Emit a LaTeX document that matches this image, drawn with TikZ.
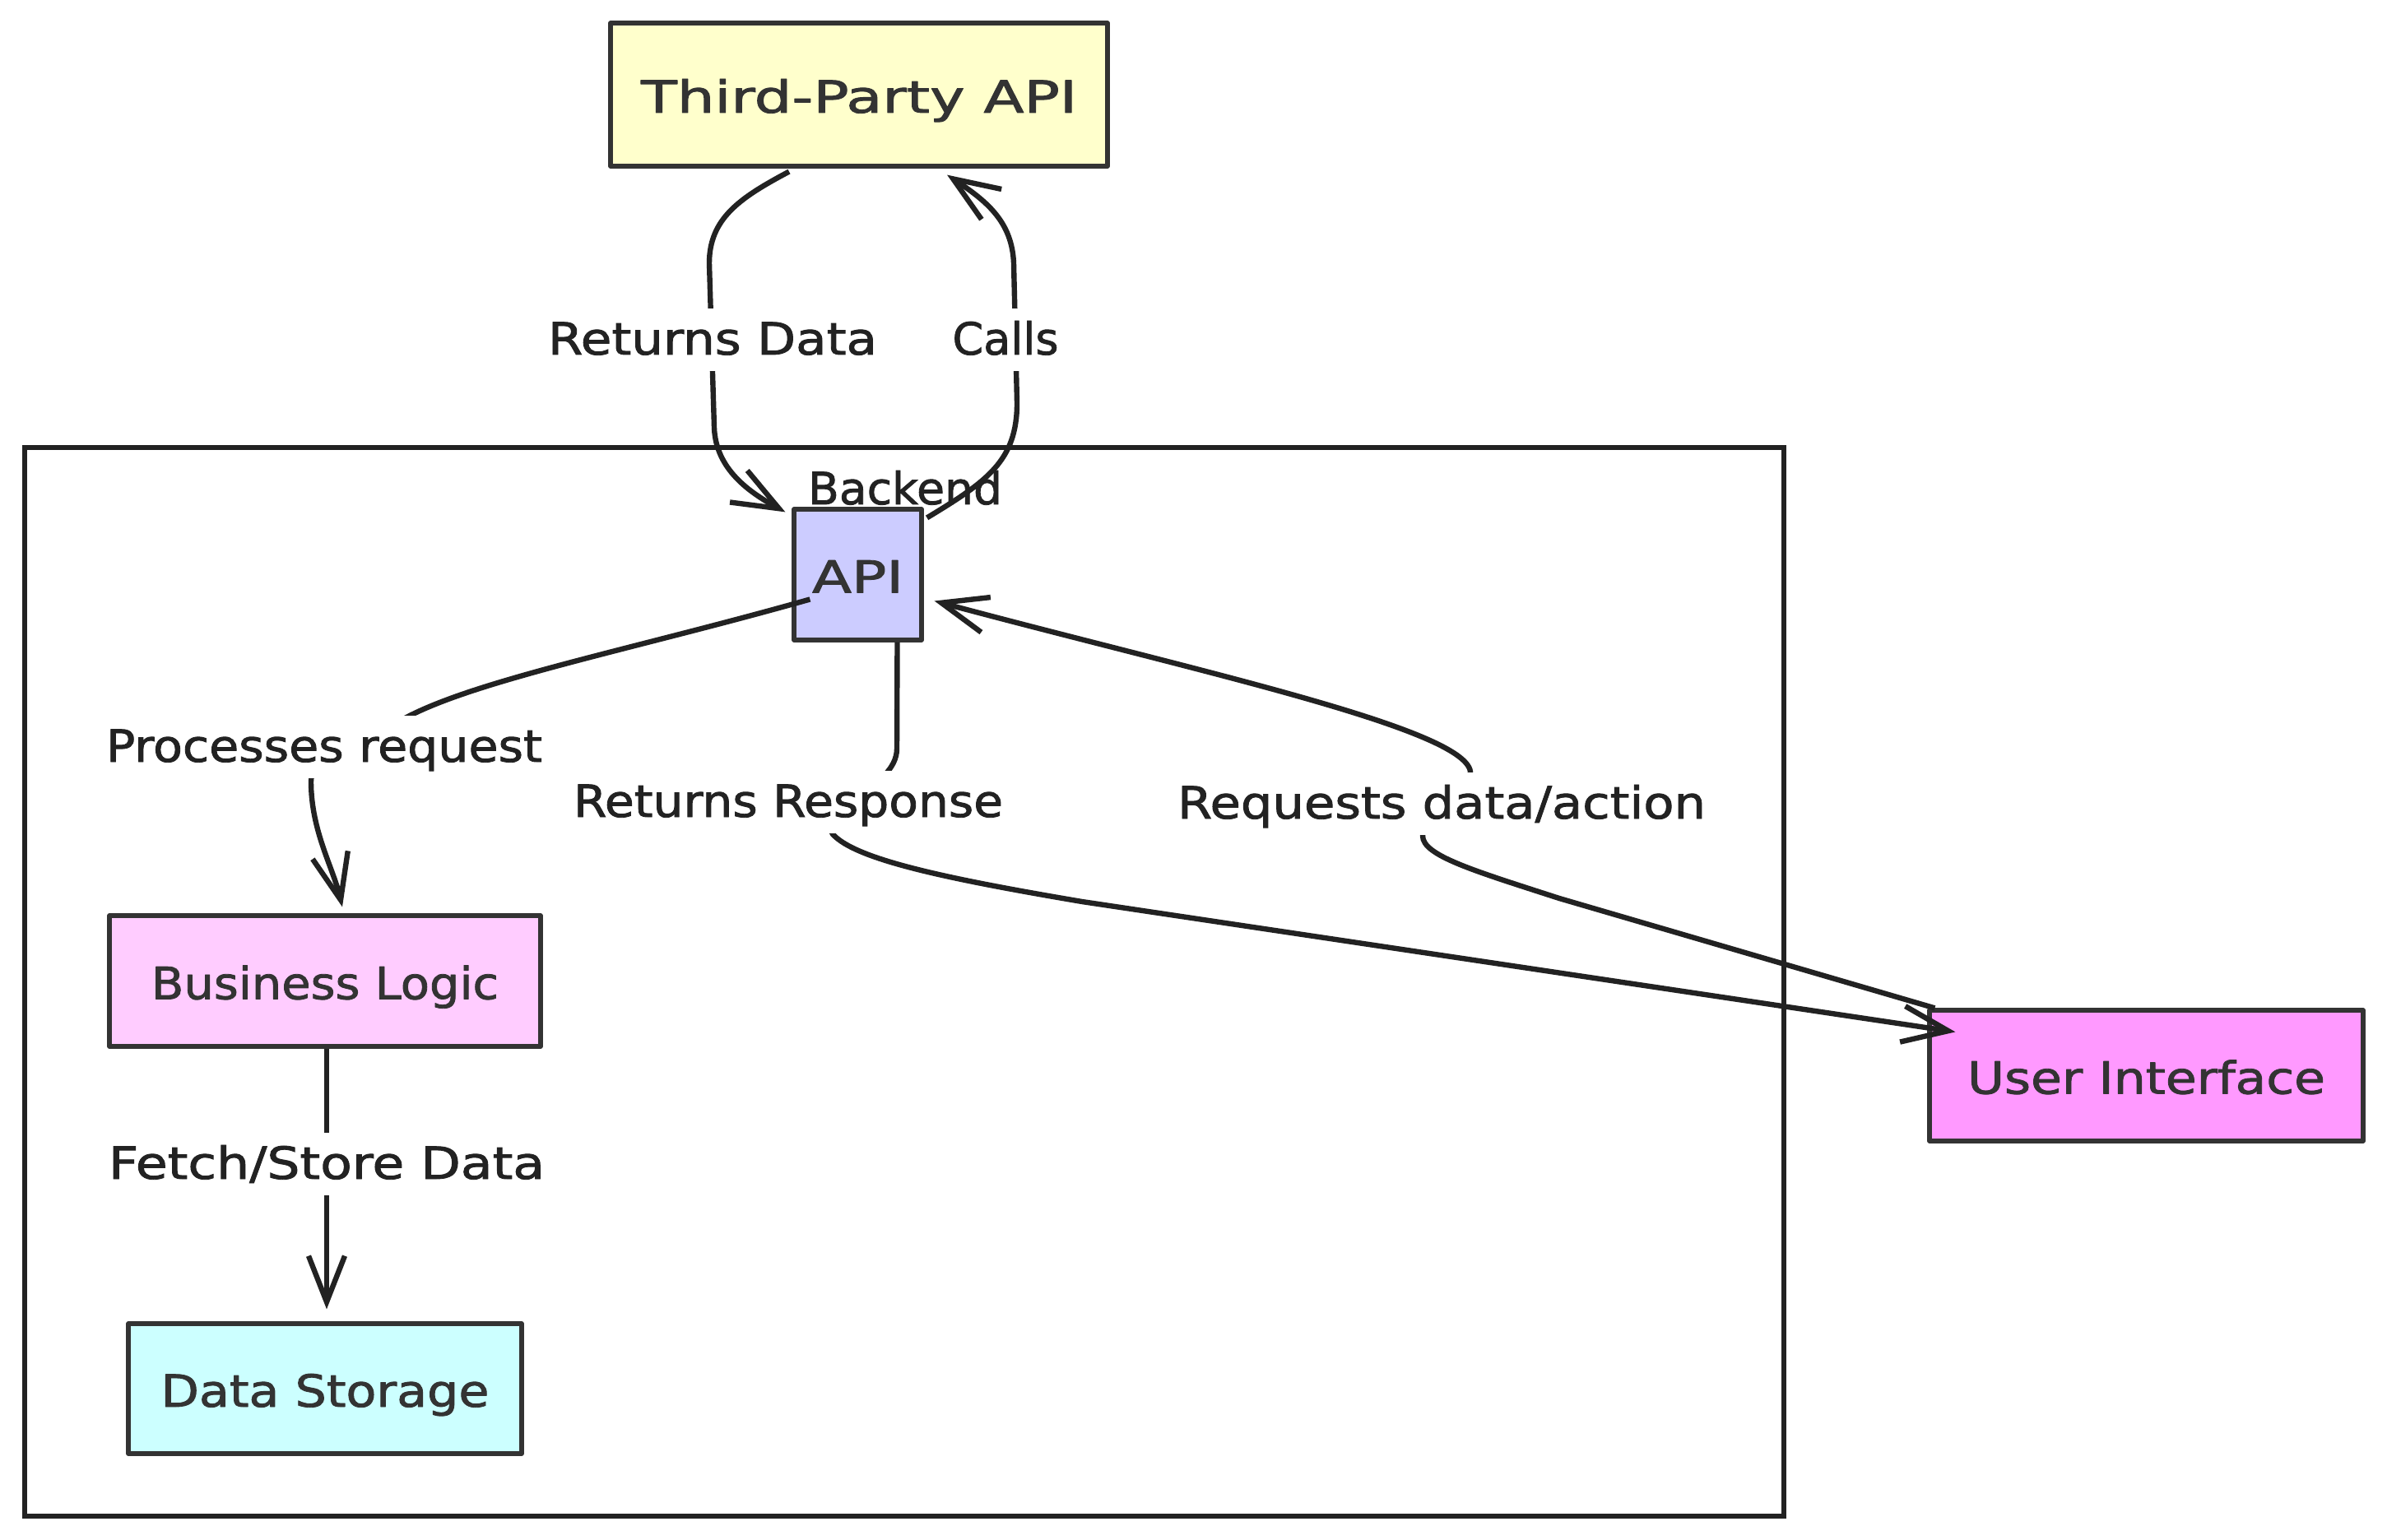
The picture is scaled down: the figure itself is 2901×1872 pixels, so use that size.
\documentclass[tikz,border=0pt]{standalone}
\usepackage{graphicx}
\usepackage{fontspec}
\setmainfont[FakeBold=1.5]{DejaVu Sans}
\usetikzlibrary{arrows.meta,calc}
\pgfdeclarelayer{back}
\pgfdeclarelayer{edges}
\pgfdeclarelayer{labels}
\pgfsetlayers{back,main,edges,labels}
\definecolor{ink}{HTML}{333333}
\definecolor{txt}{HTML}{222222}
\definecolor{tpc}{HTML}{FFFFCC}
\definecolor{apic}{HTML}{CCCCFF}
\definecolor{blc}{HTML}{FFCCFF}
\definecolor{dsc}{HTML}{CCFFFF}
\definecolor{uic}{HTML}{FF99FF}
\newcommand{\fitw}[2]{\resizebox{#1}{\height}{#2}}
\begin{document}
\begin{tikzpicture}[x=0.25pt,y=-0.25pt,line cap=round,line join=round,
  font=\fontsize{13.5}{16}\selectfont,
  box/.style={draw=ink,line width=1.3pt,inner sep=0pt,text=ink,text height=11pt,text depth=0pt},
  lbl/.style={fill=white,inner xsep=3pt,inner ysep=2.5pt,text=txt,text height=11.6pt,text depth=2.6pt},
  conn/.style={draw=txt,line width=1.6pt},
  arr/.style={conn,-{Straight Barb[length=14pt,width=11pt]}}]
\useasboundingbox (0,0) rectangle (2901,1872);

% nodes
\node[box,fill=tpc,minimum width=151pt,minimum height=43.5pt] (tp) at (1044,115) {\fitw{132.5pt}{Third-Party API}};
\node[box,fill=apic,minimum width=38.75pt,minimum height=39.75pt] (api) at (1042.5,698.5) {\fitw{27.75pt}{API}};
\node[box,fill=blc,minimum width=131pt,minimum height=39.75pt] (bl) at (395,1192.5) {\fitw{105.5pt}{Business Logic}};
\node[box,fill=dsc,minimum width=119.5pt,minimum height=39.5pt] (ds) at (395,1688) {\fitw{99.75pt}{Data Storage}};
\node[box,fill=uic,minimum width=131.75pt,minimum height=39.75pt] (ui) at (2608.5,1307.5) {\fitw{108.75pt}{User Interface}};

\begin{pgfonlayer}{back}
\fill[white] (0,0) rectangle (2901,1872);
\node[draw=txt,line width=1.3pt,minimum width=534.5pt,minimum height=324.75pt,inner sep=0pt] (backend) at (1099,1193.5) {};
\node[anchor=base,text=txt,inner sep=0pt] (bk) at (1100,613) {\fitw{59pt}{Backend}};
\end{pgfonlayer}

% edge labels
\begin{pgfonlayer}{labels}
\node[lbl] (lrd) at (866,413) {\fitw{100pt}{Returns Data}};
\node[lbl] (lca) at (1222,413) {\fitw{32.25pt}{Calls}};
\node[lbl] (lpr) at (394,908) {\fitw{132.5pt}{Processes request}};
\node[lbl] (lrr) at (958,975) {\fitw{130.5pt}{Returns Response}};
\node[lbl] (lrq) at (1752,977) {\fitw{160.5pt}{Requests data/action}};
\node[lbl] (lfs) at (397,1415) {\fitw{132.5pt}{Fetch/Store Data}};
\end{pgfonlayer}

\begin{pgfonlayer}{edges}
% Returns Data: Third-Party API -> API
\draw[arr] ($(tp.south)+(-85,4)$) .. controls (900,240) and (862,265) .. (862,320)
  -- (868,520) .. controls (870,570) and (910,598) .. ($(api.north west)+(-8,6)$);
% Calls: API -> Third-Party API
\draw[arr] ($(api.north east)+(4,13)$) .. controls (1200,585) and (1236,560) .. (1236,490)
  -- (1232,320) .. controls (1230,270) and (1200,245) .. ($(tp.south)+(107,8)$);
% Processes request: API -> Business Logic
\draw[arr] ($(api.west)+(22,30)$) .. controls (760,792) and (560,830) .. (480,880)
  .. controls (420,915) and (378,920) .. (378,950)
  .. controls (378,1010) and (405,1055) .. ($(bl.north)+(21,-8)$);
% Returns Response: API -> User Interface
\draw[arr] ($(api.south)+(48,0)$) -- (1090,910) .. controls (1090,960) and (990,980) .. (1012,1014)
  .. controls (1040,1045) and (1150,1068) .. (1315,1096) -- ($(ui.north west)+(34,29)$);
% Requests data/action: User Interface -> API
\draw[arr] ($(ui.north west)+(9,0)$) -- (1895,1092) .. controls (1790,1058) and (1729,1040) .. (1729,1016)
  .. controls (1729,990) and (1787,965) .. (1787,938)
  .. controls (1780,885) and (1450,815) .. ($(api.east)+(13,32)$);
% Fetch/Store Data: Business Logic -> Data Storage
\draw[arr] ($(bl.south)+(2,0)$) -- (lfs.center) -- ($(ds.north)+(2,-15)$);
\end{pgfonlayer}
\end{tikzpicture}
\end{document}
